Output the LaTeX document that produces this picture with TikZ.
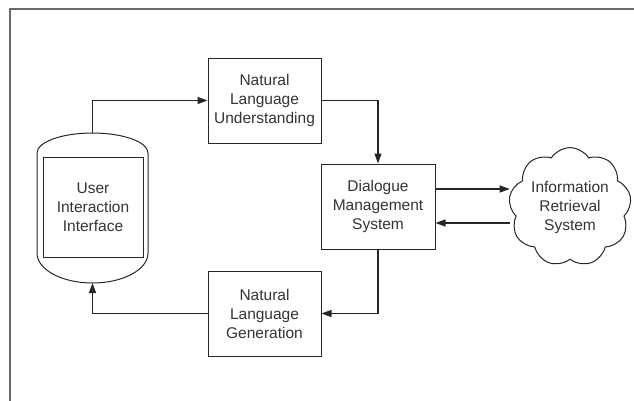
\documentclass[tikz,border=0pt]{standalone}
\usepackage{fontspec}
\setmainfont{Liberation Sans}
\usetikzlibrary{arrows.meta,shapes.symbols}
\definecolor{txt}{HTML}{333333}
\definecolor{frame}{HTML}{6A6A6A}
\definecolor{ink}{HTML}{262626}
\begin{document}
\begin{tikzpicture}[x=1pt,y=-1pt,
  every node/.style={font=\fontsize{15.5}{19}\selectfont, text=txt, align=center},
  box/.style={draw=ink, line width=1pt, minimum width=113pt, minimum height=85pt, inner sep=0pt},
  link/.style={draw=ink, line width=1.2pt, -{Triangle[length=10pt,width=7pt]}},
]
\useasboundingbox (0,0) rectangle (634,400);
% outer frame (only top and left edges fall inside the page)
\draw[frame, line width=2pt] (10,402) -- (10,9) -- (636,9);

% user interaction tank
\draw[draw=ink, line width=1pt] (37,253) -- (37,153) arc(180:360:55.5 and 20) -- (148,253) arc(0:180:55.5 and 30) -- cycle;
\coordinate (tanktop) at (92.5,133);
\coordinate (tankbot) at (92.5,283);
\node[box, minimum width=100pt, minimum height=100pt] (ui) at (93,207) {User\\Interaction\\Interface};

% processing blocks
\node[box] (nlu) at (264.5,100.5) {Natural\\Language\\Understanding};
\node[box, minimum width=114pt] (dms) at (378,206.5) {Dialogue\\Management\\System};
\node[box] (nlg) at (264.5,313.5) {Natural\\Language\\Generation};

% retrieval cloud
\node[draw=ink, line width=1pt, cloud, cloud puffs=9, cloud puff arc=115, aspect=1.05,
      minimum width=110pt, minimum height=106pt, inner sep=0pt] (irs) at (570,207) {Information\\Retrieval\\System};

% connectors
\draw[link] (tanktop) |- (nlu.west);
\draw[link] (nlu.east) -| (dms.north);
\draw[link] ([yshift=17.5pt]dms.east) -- ([yshift=17.5pt]dms.east -| irs.west);
\draw[link] ([yshift=-16.5pt]dms.east -| irs.west) -- ([yshift=-16.5pt]dms.east);
\draw[link] (dms.south) |- (nlg.east);
\draw[link] (nlg.west) -| (tankbot);
\end{tikzpicture}
\end{document}
